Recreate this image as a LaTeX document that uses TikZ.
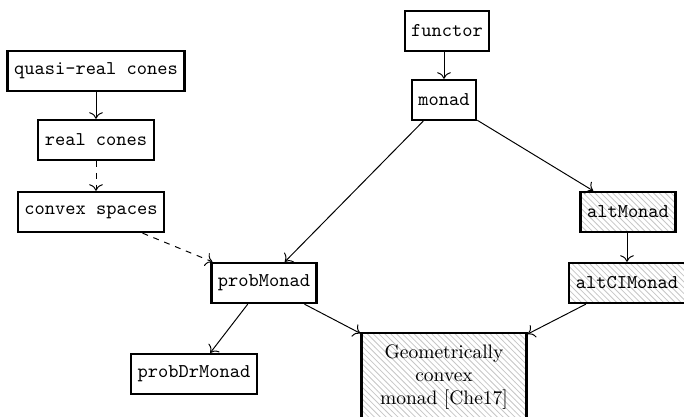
\documentclass[tikz,border=0pt]{standalone}
\usetikzlibrary{patterns,arrows.meta}
\begin{document}
\begin{tikzpicture}[x=0.5128pt,y=-0.5128pt,
  box/.style={draw,very thick,font=\ttfamily,minimum height=20.5pt,inner xsep=3.33pt},
  hatched/.style={pattern=north west lines,pattern color=gray!45},
  conn/.style={-{To[scale=1.25]},line width=0.5pt},
  dconn/.style={conn,dashed}]
\useasboundingbox (0,0) rectangle (684,417);
\node[box] (functor) at (447,31) {functor};
\node[box] (monad) at (444,100) {monad};
\node[box] (quasi) at (96,71) {quasi-real cones};
\node[box] (real) at (96,140) {real cones};
\node[box] (convex) at (91,212) {convex spaces};
\node[box] (prob) at (264,283) {probMonad};
\node[box] (probdr) at (194,374) {probDrMonad};
\node[box,hatched] (alt) at (628,212) {altMonad};
\node[box,hatched] (altci) at (627,283) {altCIMonad};
\node[draw,very thick,hatched,align=center,text width=78pt,minimum height=45pt,inner sep=3.33pt] (geo) at (444,377) {Geometrically\\ convex\\ monad [Che17]};
\draw[conn] (functor.south -| monad) -- (monad);
\draw[conn] (quasi) -- (real);
\draw[dconn] (real.south -| 96,0) -- (convex.north -| 96,0);
\draw[dconn] (convex) -- (prob);
\draw[conn] (monad) -- (prob);
\draw[conn] (monad) -- (alt);
\draw[conn] (alt.south -| altci) -- (altci);
\draw[conn] (prob) -- (probdr);
\draw[conn] (prob) -- (geo);
\draw[conn] (altci) -- (geo);
\end{tikzpicture}
\end{document}
